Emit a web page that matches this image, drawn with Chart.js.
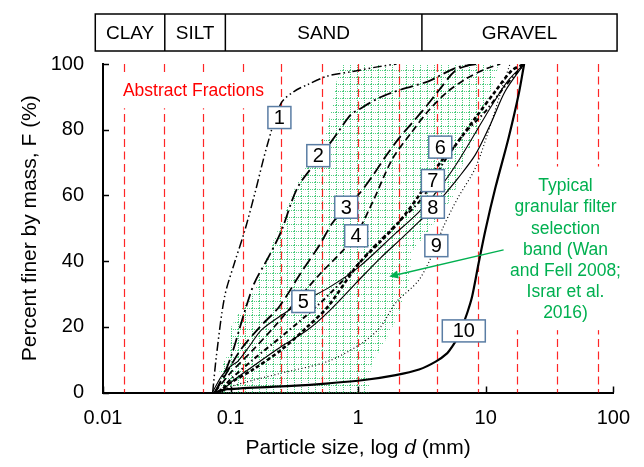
<!DOCTYPE html>
<html>
<head>
<meta charset="utf-8">
<script src="https://cdn.jsdelivr.net/npm/chart.js@4.4.1/dist/chart.umd.min.js"></script>
<style>
  html, body { margin: 0; padding: 0; background: #fff; }
  #wrap { width: 644px; height: 467px; }
</style>
</head>
<body>
<div id="wrap"><canvas id="psd" width="644" height="467"></canvas></div>
<script>
// ---------- axis ticks ----------
const xTicks = [0.01, 0.1, 1, 10, 100];
const yTicks = [0, 20, 40, 60, 80, 100];

// ---------- soil classification banner (size limits, mm) ----------
const soilClasses = ['CLAY', 'SILT', 'SAND', 'GRAVEL'];
const soilBounds = [0.0087, 0.0305, 0.091, 3.16, 107];

// ---------- abstract fraction boundaries (mm) ----------
const fractionSizes = [0.0147, 0.030, 0.0608, 0.125, 0.249, 0.52, 1.0, 2.09, 4.17, 8.7, 17.6, 36.5, 75.4];

// ---------- typical filter band: fine and coarse limits (bottom to top) ----------
const bandFineD = [0.082, 0.082, 0.10, 0.101, 0.124, 0.145, 0.221, 0.25, 0.334, 0.573, 0.72];
const bandFineF = [0, 7, 13, 20, 26, 29, 47, 52, 64, 80, 100];
const bandCoarseD = [1.22, 1.22, 1.28, 1.54, 2.1, 2.5, 2.64, 3.7, 5.6, 6.9, 8.3, 9.95, 11.9, 12.6];
const bandCoarseF = [0, 3, 9, 14, 24, 34, 43, 50, 60, 72, 77.5, 87.5, 96, 100];

// ---------- grading curves: particle size d (mm) and percent finer F (%) ----------
const curve1D = [0.0724, 0.0773, 0.0898, 0.1074, 0.1286, 0.154, 0.1945, 0.249, 0.316, 0.40, 0.573, 0.93, 1.45, 2.0];
const curve1F = [0, 10.9, 29.2, 39.5, 49, 60.2, 75.5, 88.1, 91.7, 93.7, 96.3, 97.8, 99.2, 100];

const curve2D = [0.075, 0.09, 0.105, 0.121, 0.1327, 0.154, 0.2, 0.249, 0.334, 0.487, 0.649, 0.877, 1.02, 1.46, 1.97, 2.64, 3.59, 5.8, 8.4];
const curve2F = [0, 6, 13, 21.1, 26.2, 33.4, 41.5, 49, 62.3, 71, 77.6, 84.6, 86.2, 89.7, 91.7, 93.2, 94.8, 98.8, 100];

const curve3D = [0.075, 0.09, 0.12, 0.17, 0.2415, 0.35, 0.5, 0.626, 0.806, 1.02, 1.3, 1.65, 2.1, 2.64, 3.4, 4.3, 5.8, 7.8];
const curve3F = [0, 5, 13, 20, 26.2, 36, 45, 51.5, 56.4, 60.5, 66, 72, 77.5, 82, 87, 92, 98, 100];

const curve4D = [0.075, 0.1, 0.15, 0.22, 0.33, 0.5, 0.75, 0.965, 1.3, 1.85, 2.6, 3.6, 5, 7, 10, 13];
const curve4F = [0, 6, 13, 20, 28, 36, 43, 48, 58, 71, 79, 86, 91.5, 95.5, 98.5, 100];

const curve5D = [0.072, 0.085, 0.1, 0.114, 0.14, 0.174, 0.25, 0.372, 0.593, 1.0, 1.97, 3.0, 4.5, 6, 8, 11, 15, 20];
const curve5F = [0, 5, 8, 9.5, 14, 19, 23.5, 27.7, 32, 38, 48.5, 55, 63, 70, 78, 87, 95, 100];

const curve6D = [0.08, 0.1, 0.15, 0.25, 0.4, 0.575, 1.0, 1.5, 2.1, 3.0, 4.4, 5.46, 8.3, 11.9, 16, 20];
const curve6F = [0, 3, 7, 13, 20, 26, 39, 46, 52, 60, 70, 74, 83.6, 91.7, 98, 100];

const curve7D = [0.08, 0.1, 0.15, 0.25, 0.466, 0.8, 1.3, 2.09, 3.0, 3.85, 4.57, 6.5, 9.95, 14, 17, 20];
const curve7F = [0, 4, 10, 17, 26, 35, 44, 52, 58, 64, 69.4, 78, 85.6, 93, 96.8, 100];

const curve8D = [0.085, 0.1, 0.15, 0.25, 0.4, 0.6, 1.0, 1.5, 2.2, 3.0, 3.85, 4.7, 6, 8.3, 11, 14.2, 20];
const curve8F = [0, 3, 8, 14, 19, 25, 34, 41, 47, 52, 56, 60, 65, 72.4, 82, 91.7, 100];

const curve9D = [0.085, 0.1, 0.25, 0.58, 1.07, 1.5, 1.97, 3.0, 4.1, 4.6, 6, 8.3, 11, 13.5, 15.5];
const curve9F = [0, 1.8, 5.9, 9.5, 15, 20, 27.3, 34.3, 44.7, 50, 59, 68.4, 82, 93, 100];

const curve10D = [0.075, 0.094, 0.3, 0.59, 1.11, 1.97, 3.0, 4.05, 5.0, 5.46, 6.0, 6.53, 7.2, 7.82, 8.8, 9.95, 11.9, 15.1, 18.1, 20];
const curve10F = [0, 1, 2, 2.8, 3.8, 5.3, 7, 9.4, 12, 14, 16.5, 20, 24.5, 29.2, 39.4, 49.5, 62.3, 77.5, 90.7, 100];

// ---------- curve identifiers and where their tags sit (d, F) ----------
const curveIds = ['1', '2', '3', '4', '5', '6', '7', '8', '9', '10'];
const tagD = [0.2414, 0.487, 0.806, 0.965, 0.372, 4.40, 3.85, 3.85, 4.10, 6.73];
const tagF = [83.7, 72.1, 56.4, 47.7, 27.7, 74.7, 64.5, 56.4, 44.7, 18.75];

// ---------- annotations ----------
const fractionNote = 'Abstract Fractions';
const bandNote = ['Typical', 'granular filter', 'selection', 'band (Wan', 'and Fell 2008;', 'Israr et al.', '2016)'];
const arrowD = [13.8, 1.75];   // tail, head
const arrowF = [43.4, 35.3];

// ---------- styling ----------
const FONT = '"Liberation Sans", Arial, Helvetica, sans-serif';
const RED = 'rgba(255,0,0,0.85)';
const GREEN = '#00b050';

const curveSeries = [
  { d: curve1D, F: curve1F, dash: [9, 3, 1.5, 3, 1.5, 3], width: 1.5 },
  { d: curve2D, F: curve2F, dash: [13, 4, 2, 4], width: 1.8 },
  { d: curve3D, F: curve3F, dash: [12, 5], width: 1.8 },
  { d: curve4D, F: curve4F, dash: [7, 4], width: 1.7 },
  { d: curve5D, F: curve5F, dash: [], width: 1.1 },
  { d: curve6D, F: curve6F, dash: [4, 2.5], width: 2.6 },
  { d: curve7D, F: curve7F, dash: [5, 3, 1.5, 3], width: 2.0 },
  { d: curve8D, F: curve8F, dash: [], width: 1.2 },
  { d: curve9D, F: curve9F, dash: [1, 2.5], width: 1.2 },
  { d: curve10D, F: curve10F, dash: [], width: 2.2 }
];

const datasets = curveSeries.map((c, i) => ({
  label: 'Curve ' + curveIds[i],
  data: c.d.map((d, k) => ({ x: d, y: c.F[k] })),
  showLine: true,
  borderColor: '#000',
  borderWidth: c.width,
  borderDash: c.dash,
  pointRadius: 0,
  tension: 0.3,
  fill: false
}));

function gridPattern(ctx) {
  const s = 7;
  const tile = document.createElement('canvas');
  tile.width = s; tile.height = s;
  const g = tile.getContext('2d');
  g.fillStyle = 'rgba(60,200,115,0.9)';
  for (let i = 0; i < s; i += 2) {
    g.fillRect(i, 0, 1, 1);
    g.fillRect(0, i, 1, 1);
  }
  return ctx.createPattern(tile, 'repeat');
}

const decor = {
  id: 'decor',
  beforeDatasetsDraw(chart) {
    const { ctx, chartArea: a, scales: { x, y } } = chart;
    ctx.save();

    // filter selection band
    ctx.beginPath();
    bandFineD.forEach((d, i) => {
      const px = x.getPixelForValue(d), py = y.getPixelForValue(bandFineF[i]);
      if (i === 0) ctx.moveTo(px, py); else ctx.lineTo(px, py);
    });
    for (let i = bandCoarseD.length - 1; i >= 0; i--) {
      ctx.lineTo(x.getPixelForValue(bandCoarseD[i]), y.getPixelForValue(bandCoarseF[i]));
    }
    ctx.closePath();
    ctx.fillStyle = gridPattern(ctx);
    ctx.fill();

    // abstract fraction boundaries
    ctx.strokeStyle = RED;
    ctx.lineWidth = 1.2;
    ctx.setLineDash([8, 4.5]);
    fractionSizes.forEach(d => {
      const px = Math.round(x.getPixelForValue(d)) + 0.5;
      ctx.beginPath();
      ctx.moveTo(px, a.top);
      ctx.lineTo(px, a.bottom);
      ctx.stroke();
    });
    ctx.setLineDash([]);

    // "Abstract Fractions" text box
    ctx.font = '17.5px ' + FONT;
    const fx = x.getPixelForValue(0.01433), fy = y.getPixelForValue(91.7);
    const fw = ctx.measureText(fractionNote).width;
    ctx.fillStyle = '#fff';
    ctx.fillRect(fx - 4, fy - 17, fw + 8, 34);
    ctx.fillStyle = '#ff0000';
    ctx.textAlign = 'left';
    ctx.textBaseline = 'middle';
    ctx.fillText(fractionNote, fx, fy);

    // band note text box
    const nx = x.getPixelForValue(42.2), ny = y.getPixelForValue(62.7);
    const lh = 21.1;
    let nw = 0;
    bandNote.forEach(t => { nw = Math.max(nw, ctx.measureText(t).width); });
    ctx.fillStyle = '#fff';
    ctx.fillRect(nx - nw / 2 - 3, ny - 20, nw + 6, lh * (bandNote.length - 1) + 37);
    ctx.fillStyle = GREEN;
    ctx.textAlign = 'center';
    bandNote.forEach((t, i) => ctx.fillText(t, nx, ny + i * lh));

    ctx.restore();
  },
  afterDatasetsDraw(chart) {
    const { ctx, chartArea: a, scales: { x, y } } = chart;
    ctx.save();

    // arrow toward the band
    const tx = x.getPixelForValue(arrowD[0]), ty = y.getPixelForValue(arrowF[0]);
    const hx = x.getPixelForValue(arrowD[1]), hy = y.getPixelForValue(arrowF[1]);
    const ang = Math.atan2(hy - ty, hx - tx);
    ctx.strokeStyle = GREEN;
    ctx.fillStyle = GREEN;
    ctx.lineWidth = 1.4;
    ctx.beginPath();
    ctx.moveTo(tx, ty);
    ctx.lineTo(hx - 7 * Math.cos(ang), hy - 7 * Math.sin(ang));
    ctx.stroke();
    ctx.beginPath();
    ctx.moveTo(hx, hy);
    ctx.lineTo(hx - 9 * Math.cos(ang) + 4 * Math.sin(ang), hy - 9 * Math.sin(ang) - 4 * Math.cos(ang));
    ctx.lineTo(hx - 9 * Math.cos(ang) - 4 * Math.sin(ang), hy - 9 * Math.sin(ang) + 4 * Math.cos(ang));
    ctx.closePath();
    ctx.fill();

    // curve tags
    ctx.font = '20px ' + FONT;
    ctx.textAlign = 'center';
    ctx.textBaseline = 'middle';
    curveIds.forEach((id, i) => {
      const cx = x.getPixelForValue(tagD[i]), cy = y.getPixelForValue(tagF[i]);
      const w = id.length > 1 ? 43 : 23, h = 22;
      ctx.fillStyle = '#fff';
      ctx.fillRect(cx - w / 2, cy - h / 2, w, h);
      ctx.strokeStyle = '#5a7da4';
      ctx.lineWidth = 1.5;
      ctx.strokeRect(cx - w / 2, cy - h / 2, w, h);
      ctx.fillStyle = '#000';
      ctx.fillText(id, cx, cy + 1);
    });

    // inward tick marks
    ctx.strokeStyle = '#000';
    ctx.lineWidth = 1.5;
    yTicks.forEach(v => {
      const py = Math.round(y.getPixelForValue(v)) + 0.5;
      ctx.beginPath(); ctx.moveTo(a.left, py); ctx.lineTo(a.left + 6, py); ctx.stroke();
    });
    xTicks.forEach(v => {
      const px = Math.round(x.getPixelForValue(v)) + 0.5;
      ctx.beginPath(); ctx.moveTo(px, a.bottom); ctx.lineTo(px, a.bottom - 6); ctx.stroke();
    });

    // soil classification banner
    const top = 14, bottom = 51;
    const bx = soilBounds.map(d => x.getPixelForValue(d));
    ctx.lineWidth = 1.5;
    ctx.strokeStyle = '#000';
    ctx.strokeRect(bx[0], top, bx[bx.length - 1] - bx[0], bottom - top);
    for (let i = 1; i < bx.length - 1; i++) {
      ctx.beginPath(); ctx.moveTo(bx[i], top); ctx.lineTo(bx[i], bottom); ctx.stroke();
    }
    ctx.font = '19px ' + FONT;
    ctx.fillStyle = '#000';
    soilClasses.forEach((s, i) => ctx.fillText(s, (bx[i] + bx[i + 1]) / 2, (top + bottom) / 2 + 1));

    // axis titles
    ctx.font = '21px ' + FONT;
    ctx.save();
    ctx.translate(30, (a.top + a.bottom) / 2);
    ctx.rotate(-Math.PI / 2);
    ctx.fillText('Percent finer by mass, F (%)', 0, 0);
    ctx.restore();

    const p1 = 'Particle size, log ', p2 = 'd', p3 = ' (mm)';
    const regular = '21px ' + FONT, italic = 'italic 21px ' + FONT;
    ctx.font = regular; const w1 = ctx.measureText(p1).width, w3 = ctx.measureText(p3).width;
    ctx.font = italic; const w2 = ctx.measureText(p2).width;
    let sx = (a.left + a.right) / 2 - (w1 + w2 + w3) / 2;
    const sy = 448;
    ctx.textAlign = 'left';
    ctx.font = regular; ctx.fillText(p1, sx, sy); sx += w1;
    ctx.font = italic; ctx.fillText(p2, sx, sy); sx += w2;
    ctx.font = regular; ctx.fillText(p3, sx, sy);

    ctx.restore();
  }
};

new Chart(document.getElementById('psd'), {
  type: 'scatter',
  data: { datasets },
  options: {
    responsive: false,
    animation: false,
    devicePixelRatio: 1,
    layout: { padding: { top: 64, right: 29, bottom: 0, left: 0 } },
    plugins: { legend: { display: false }, tooltip: { enabled: false } },
    scales: {
      x: {
        type: 'logarithmic',
        min: 0.01,
        max: 100,
        afterBuildTicks: axis => { axis.ticks = xTicks.map(v => ({ value: v })); },
        afterFit: s => { s.height = 74.5; },
        grid: { display: false, drawTicks: false },
        border: { display: true, color: '#000', width: 2 },
        ticks: {
          callback: v => String(v),
          color: '#000',
          font: { family: FONT, size: 20 },
          padding: 14,
          maxRotation: 0,
          autoSkip: false
        }
      },
      y: {
        min: 0,
        max: 100,
        afterBuildTicks: axis => { axis.ticks = yTicks.map(v => ({ value: v })); },
        afterFit: s => { s.width = 103; },
        grid: { display: false, drawTicks: false },
        border: { display: true, color: '#000', width: 2 },
        ticks: {
          color: '#000',
          font: { family: FONT, size: 20 },
          padding: 19
        }
      }
    }
  },
  plugins: [decor]
});
</script>
</body>
</html>
